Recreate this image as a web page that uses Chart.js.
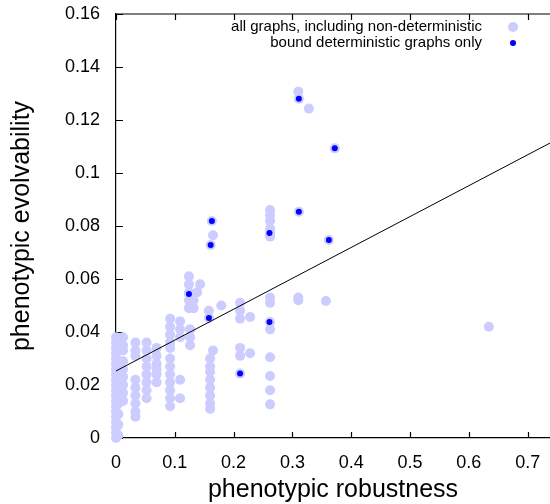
<!DOCTYPE html>
<html>
<head>
<meta charset="utf-8">
<script src="https://cdn.jsdelivr.net/npm/chart.js@4.4.0/dist/chart.umd.min.js"></script>
<style>
  html, body { margin: 0; padding: 0; background: #fff; }
  canvas { display: block; }
</style>
</head>
<body>
<canvas id="chart" width="550" height="504"></canvas>
<script>
/* robustness vs evolvability scatter */

const X_TICKS = [0, 0.1, 0.2, 0.3, 0.4, 0.5, 0.6, 0.7];
const Y_TICKS = [0, 0.02, 0.04, 0.06, 0.08, 0.1, 0.12, 0.14, 0.16];

const LEGEND_LABELS = ['all graphs, including non-deterministic', 'bound deterministic graphs only'];

// all graphs (light markers)
const allX = [
  0, 0, 0, 0, 0, 0, 0, 0, 0, 0, 0, 0, 0, 0, 0, 0, 0, 0, 0, 0,
  0.004, 0.004, 0.004, 0.004, 0.004, 0.004, 0.004, 0.004, 0.004, 0.004,
  0.012, 0.012, 0.012, 0.012, 0.012, 0.012, 0.012, 0.012, 0.012,
  0.033, 0.033, 0.033, 0.033, 0.033, 0.033, 0.033, 0.033, 0.033,
  0.052, 0.052, 0.052, 0.052, 0.052, 0.052, 0.052, 0.052,
  0.069, 0.069, 0.069, 0.069, 0.069, 0.069,
  0.092, 0.092, 0.092, 0.092, 0.092, 0.092, 0.092, 0.092, 0.092, 0.092, 0.092, 0.092,
  0.109, 0.109, 0.109, 0.109, 0.109,
  0.126, 0.126, 0.126,
  0.124, 0.124, 0.124, 0.124, 0.124, 0.124,
  0.132, 0.132, 0.138, 0.143,
  0.158, 0.158, 0.163, 0.161, 0.165, 0.165,
  0.160, 0.160, 0.160, 0.160, 0.160, 0.160, 0.160, 0.160,
  0.179,
  0.211, 0.211, 0.211, 0.211, 0.211, 0.211,
  0.228, 0.228,
  0.262, 0.262, 0.262, 0.262, 0.262, 0.262, 0.262, 0.262, 0.262, 0.262, 0.262, 0.262, 0.262, 0.262,
  0.310, 0.311, 0.311, 0.310, 0.310,
  0.328, 0.357, 0.362, 0.372, 0.634
];
const allY = [
  0, 0.002, 0.004, 0.006, 0.008, 0.010, 0.012, 0.014, 0.016, 0.018, 0.020, 0.022, 0.024, 0.026, 0.028, 0.030, 0.032, 0.034, 0.036, 0.038,
  0.001, 0.005, 0.009, 0.013, 0.017, 0.021, 0.025, 0.029, 0.033, 0.037,
  0.038, 0.035, 0.033, 0.029, 0.026, 0.023, 0.020, 0.017, 0.014,
  0.036, 0.033, 0.031, 0.022, 0.019, 0.016, 0.013, 0.010, 0.008,
  0.036, 0.033, 0.030, 0.027, 0.024, 0.021, 0.018, 0.015,
  0.034, 0.031, 0.028, 0.026, 0.024, 0.021,
  0.045, 0.042, 0.039, 0.036, 0.034, 0.030, 0.027, 0.024, 0.021, 0.018, 0.015, 0.012,
  0.044, 0.041, 0.038, 0.022, 0.015,
  0.041, 0.038, 0.035,
  0.061, 0.058, 0.055, 0.052, 0.049, 0.0543,
  0.052, 0.049, 0.055, 0.058,
  0.048, 0.0453, 0.0819, 0.0728, 0.0765, 0.033,
  0.030, 0.027, 0.025, 0.022, 0.019, 0.016, 0.013, 0.011,
  0.050,
  0.051, 0.048, 0.045, 0.034, 0.031, 0.0243,
  0.0457, 0.032,
  0.086, 0.084, 0.082, 0.079, 0.0774, 0.076, 0.053, 0.051, 0.0438, 0.041, 0.0305, 0.0234, 0.018, 0.0127,
  0.1307, 0.128, 0.0854, 0.053, 0.052,
  0.1243, 0.0517, 0.0747, 0.1093, 0.042
];

// bound deterministic graphs only (blue markers)
const detX = [0.124, 0.158, 0.163, 0.161, 0.311, 0.372, 0.311, 0.261, 0.362, 0.261, 0.211];
const detY = [0.0543, 0.0453, 0.0819, 0.0728, 0.128, 0.1093, 0.0854, 0.0774, 0.0747, 0.0438, 0.0243];

// linear fit end points
const fitX = [0, 0.738];
const fitY = [0.0253, 0.1113];

const LIGHT = '#ccccff';
const BLUE = '#0000ff';
const FONT = '"Liberation Sans", Helvetica, Arial, sans-serif';

const toPts = (xs, ys) => xs.map((x, i) => ({ x, y: ys[i] }));
const fmt = v => String(+Number(v).toFixed(4));

// inward ticks + top border, gnuplot style
const frame = {
  id: 'frame',
  beforeDatasetsDraw(chart) {
    const { ctx, chartArea: a, scales: { x, y } } = chart;
    ctx.save();
    ctx.strokeStyle = '#000';
    ctx.lineWidth = 1.2;
    ctx.beginPath();
    ctx.moveTo(a.left, a.top); ctx.lineTo(a.right, a.top);
    X_TICKS.forEach(v => {
      const px = Math.round(x.getPixelForValue(v)) + 0.5;
      ctx.moveTo(px, a.bottom); ctx.lineTo(px, a.bottom - 6);
      ctx.moveTo(px, a.top); ctx.lineTo(px, a.top + 6);
    });
    Y_TICKS.forEach(v => {
      const py = Math.round(y.getPixelForValue(v)) + 0.5;
      ctx.moveTo(a.left, py); ctx.lineTo(a.left + 7, py);
    });
    ctx.stroke();
    ctx.restore();
  },
  afterDraw(chart) {
    const { ctx } = chart;
    ctx.save();
    ctx.font = '15px ' + FONT;
    ctx.fillStyle = '#000';
    ctx.textAlign = 'right';
    ctx.textBaseline = 'middle';
    ctx.fillText(LEGEND_LABELS[0], 482, 27);
    ctx.fillText(LEGEND_LABELS[1], 482, 43);
    ctx.fillStyle = LIGHT;
    ctx.beginPath(); ctx.arc(513, 27, 5, 0, Math.PI * 2); ctx.fill();
    ctx.fillStyle = BLUE;
    ctx.beginPath(); ctx.arc(513, 43, 3, 0, Math.PI * 2); ctx.fill();
    ctx.restore();
  }
};

new Chart(document.getElementById('chart'), {
  type: 'scatter',
  data: {
    datasets: [
      { label: 'fit', data: toPts(fitX, fitY), showLine: true, borderColor: '#000', borderWidth: 1,
        pointRadius: 0, fill: false, order: 0 },
      { label: LEGEND_LABELS[1], data: toPts(detX, detY), backgroundColor: BLUE, borderWidth: 0,
        pointRadius: 3, clip: false, order: 1 },
      { label: LEGEND_LABELS[0], data: toPts(allX, allY), backgroundColor: LIGHT, borderWidth: 0,
        pointRadius: 5, clip: false, order: 2 }
    ]
  },
  options: {
    responsive: false,
    animation: false,
    devicePixelRatio: 1,
    layout: { autoPadding: false, padding: { top: 14, right: 0, bottom: 0, left: 0 } },
    plugins: { legend: { display: false }, tooltip: { enabled: false } },
    scales: {
      x: {
        type: 'linear', min: 0, max: 0.738,
        afterBuildTicks: s => { s.ticks = X_TICKS.map(v => ({ value: v })); },
        afterFit: s => { s.height = 66; s.paddingLeft = 0; s.paddingRight = 0; },
        grid: { display: false },
        border: { display: true, color: '#000', width: 1.2 },
        ticks: { color: '#000', padding: 6, maxRotation: 0, autoSkip: false, callback: fmt,
                 font: { family: FONT, size: 18 } },
        title: { display: true, text: 'phenotypic robustness', color: '#000',
                 font: { family: FONT, size: 25 }, padding: { top: 0, bottom: -1 } }
      },
      y: {
        type: 'linear', min: 0, max: 0.16,
        afterBuildTicks: s => { s.ticks = Y_TICKS.map(v => ({ value: v })); },
        afterFit: s => { s.width = 116; s.paddingTop = 0; s.paddingBottom = 0; },
        grid: { display: false },
        border: { display: true, color: '#000', width: 1.2 },
        ticks: { color: '#000', padding: 8, autoSkip: false, callback: fmt,
                 font: { family: FONT, size: 18 } },
        title: { display: true, text: 'phenotypic evolvability', color: '#000',
                 font: { family: FONT, size: 25 }, padding: { top: 7, bottom: 0 } }
      }
    }
  },
  plugins: [frame]
});
</script>
</body>
</html>
